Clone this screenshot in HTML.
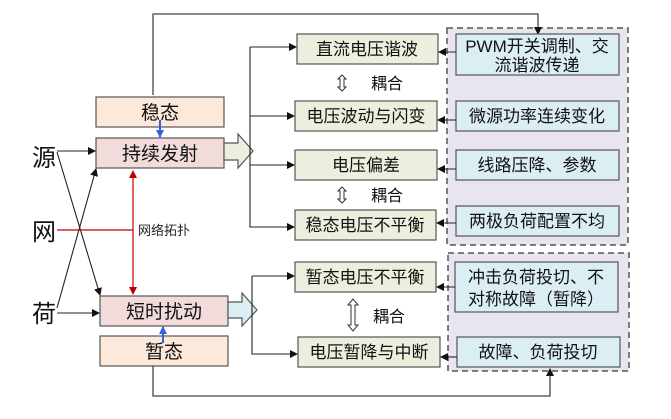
<!DOCTYPE html>
<html><head><meta charset="utf-8"><style>
html,body{margin:0;padding:0;background:#fff;}
svg text{font-family:"Liberation Sans","Noto Sans CJK SC",sans-serif;}
</style></head><body>
<svg width="671" height="414" viewBox="0 0 671 414" xmlns="http://www.w3.org/2000/svg">
<defs>
<marker id="ab" markerWidth="8" markerHeight="8" refX="7" refY="4" orient="auto" markerUnits="userSpaceOnUse"><path d="M0,0 L8,4 L0,8 z" fill="#111"/></marker>
<marker id="ar" markerWidth="8" markerHeight="8" refX="7" refY="4" orient="auto-start-reverse" markerUnits="userSpaceOnUse"><path d="M0,0 L8,4 L0,8 z" fill="#c00000"/></marker>
<marker id="abl" markerWidth="8" markerHeight="8" refX="7" refY="4" orient="auto" markerUnits="userSpaceOnUse"><path d="M0,0 L8,4 L0,8 z" fill="#3060e0"/></marker>
</defs>
<rect x="447" y="28" width="181" height="217" fill="#e9e5ef" stroke="#555" stroke-width="1.5" stroke-dasharray="6,4"/>
<rect x="448" y="253" width="181" height="118" fill="#e9e5ef" stroke="#555" stroke-width="1.5" stroke-dasharray="6,4"/>
<polyline points="153,95 153,14 538,14 538,34" fill="none" stroke="#444" stroke-width="1.3" marker-end="url(#ab)"/>
<polyline points="153,366 153,396 550,396 550,369" fill="none" stroke="#444" stroke-width="1.3" marker-end="url(#ab)"/>
<g stroke="#555" stroke-width="1.2">
<rect x="96" y="97" width="128" height="30" fill="#fde9d9"/>
<rect x="96" y="138" width="128" height="30" fill="#f2dcdb"/>
<rect x="100" y="296" width="128" height="30" fill="#f2dcdb"/>
<rect x="100" y="336" width="128" height="30" fill="#fde9d9"/>
</g>
<g font-size="19" text-anchor="middle" fill="#111">
<text x="160" y="119">稳态</text>
<text x="160" y="160">持续发射</text>
<text x="164" y="318">短时扰动</text>
<text x="164" y="358">暂态</text>
</g>
<line x1="160" y1="120" x2="160" y2="137" stroke="#3060e0" stroke-width="2" marker-end="url(#abl)"/>
<line x1="163" y1="343" x2="163" y2="327" stroke="#3060e0" stroke-width="2" marker-end="url(#abl)"/>
<g font-size="24" fill="#111">
<text x="32" y="166">源</text>
<text x="32" y="240">网</text>
<text x="32" y="322">荷</text>
</g>
<g stroke="#222" stroke-width="1.1" fill="none">
<line x1="57" y1="151" x2="95" y2="151" marker-end="url(#ab)"/>
<line x1="57" y1="313" x2="99" y2="313" marker-end="url(#ab)"/>
<line x1="57" y1="152" x2="100" y2="295" marker-end="url(#ab)"/>
<line x1="57" y1="308" x2="96" y2="169" marker-end="url(#ab)"/>
</g>
<line x1="57" y1="230" x2="133" y2="230" stroke="#c00000" stroke-width="1.2"/>
<line x1="133" y1="171" x2="133" y2="294" stroke="#c00000" stroke-width="1.2" marker-start="url(#ar)" marker-end="url(#ar)"/>
<text x="138" y="235" font-size="13" fill="#222">网络拓扑</text>
<path d="M224,143 L238,143 L238,134 L253,151 L238,168 L238,160 L224,160 z" fill="#ebf0de" stroke="#555" stroke-width="1.2"/>
<path d="M228,302 L242,302 L242,293 L257,310 L242,326 L242,318 L228,318 z" fill="#dbeef4" stroke="#555" stroke-width="1.2"/>
<g stroke="#222" stroke-width="1.1" fill="none">
<polyline points="250,47 250,227 294,227" marker-end="url(#ab)"/>
<line x1="250" y1="47" x2="296" y2="47" marker-end="url(#ab)"/>
<line x1="250" y1="116" x2="294" y2="116" marker-end="url(#ab)"/>
<line x1="250" y1="165" x2="294" y2="165" marker-end="url(#ab)"/>
<polyline points="252,276 252,354 297,354" marker-end="url(#ab)"/>
<line x1="252" y1="276" x2="294" y2="276" marker-end="url(#ab)"/>
</g>
<g stroke="#555" stroke-width="1.2" fill="#ebf0de">
<rect x="297" y="34" width="141" height="30"/>
<rect x="295" y="101" width="142" height="30"/>
<rect x="295" y="150" width="142" height="30"/>
<rect x="295" y="210" width="141" height="30"/>
<rect x="295" y="262" width="141" height="30"/>
<rect x="298" y="337" width="142" height="30"/>
</g>
<g font-size="17" text-anchor="middle" fill="#111">
<text x="367" y="55">直流电压谐波</text>
<text x="366" y="122">电压波动与闪变</text>
<text x="366" y="171">电压偏差</text>
<text x="365" y="231">稳态电压不平衡</text>
<text x="365" y="283">暂态电压不平衡</text>
<text x="369" y="358">电压暂降与中断</text>
</g>
<g font-size="16" fill="#111">
<text x="371" y="89">耦合</text>
<text x="371" y="201">耦合</text>
<text x="373" y="322">耦合</text>
</g>
<g stroke="#333" stroke-width="1" fill="none">
<path d="M342,75 L338,79 L340,79 L340,87 L338,87 L342,91 L346,87 L344,87 L344,79 L346,79 z"/>
<path d="M342,187 L338,191 L340,191 L340,199 L338,199 L342,203 L346,199 L344,199 L344,191 L346,191 z"/>
<path d="M353,299 L348,305 L351,305 L351,325 L348,325 L353,331 L358,325 L355,325 L355,305 L358,305 z"/>
</g>
<g stroke="#555" stroke-width="1.2" fill="#dbeef4">
<rect x="456" y="34" width="163" height="41"/>
<rect x="456" y="101" width="163" height="30"/>
<rect x="456" y="150" width="163" height="30"/>
<rect x="456" y="206" width="163" height="30"/>
<rect x="455" y="262" width="163" height="50"/>
<rect x="457" y="337" width="163" height="30"/>
</g>
<g font-size="17" text-anchor="middle" fill="#111">
<text x="537" y="52">PWM开关调制、交</text>
<text x="537" y="71">流谐波传递</text>
<text x="537" y="122">微源功率连续变化</text>
<text x="537" y="171">线路压降、参数</text>
<text x="537" y="227">两极负荷配置不均</text>
<text x="536" y="283">冲击负荷投切、不</text>
<text x="536" y="305">对称故障（暂降）</text>
<text x="538" y="358">故障、负荷投切</text>
</g>
<g stroke="#222" stroke-width="1.1">
<line x1="456" y1="52" x2="439" y2="52" marker-end="url(#ab)"/>
<line x1="456" y1="120" x2="438" y2="120" marker-end="url(#ab)"/>
<line x1="456" y1="169" x2="438" y2="169" marker-end="url(#ab)"/>
<line x1="456" y1="223" x2="437" y2="223" marker-end="url(#ab)"/>
<line x1="455" y1="287" x2="437" y2="287" marker-end="url(#ab)"/>
<line x1="457" y1="357" x2="441" y2="357" marker-end="url(#ab)"/>
</g>
</svg>
</body></html>
